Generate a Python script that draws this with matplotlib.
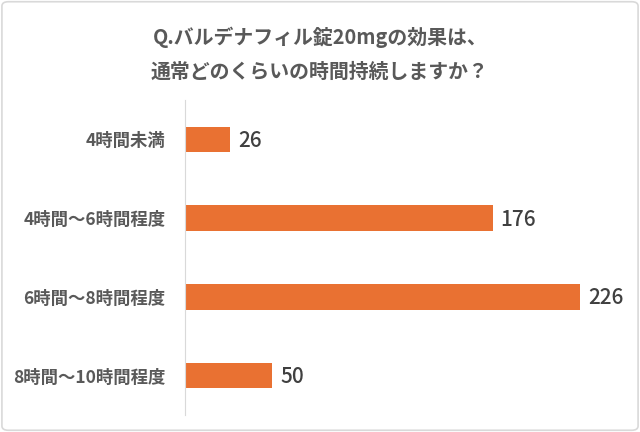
import matplotlib
matplotlib.use("Agg")
import matplotlib.pyplot as plt
from matplotlib.patches import FancyBboxPatch

plt.rcParams['font.family'] = ['Noto Sans CJK JP', 'DejaVu Sans']

# data
categories = ['4時間未満', '4時間〜6時間程度', '6時間〜8時間程度', '8時間〜10時間程度']
counts = [26, 176, 226, 50]
title = 'Q.バルデナフィル錠20mgの効果は、\n通常どのくらいの時間持続しますか？'

bar_color = '#E97132'
label_color = '#595959'

fig = plt.figure(figsize=(6.4, 4.32), dpi=100)
ax = fig.add_axes([0.289, 0.039, 0.683, 0.730])

y = list(range(len(categories)))
ax.barh(y, counts, height=0.32, color=bar_color)
ax.set_ylim(len(categories) - 0.5, -0.5)
ax.set_xlim(0, 250)

for yi, v in zip(y, counts):
    ax.text(v + 4.5, yi + 0.02, str(v), va='center', ha='left', fontsize=15,
            color='#404040', fontweight='medium')

ax.set_yticks(y)
ax.set_yticklabels(categories, fontsize=12.5, color=label_color, fontweight='bold')
ax.tick_params(axis='y', length=0, pad=14)
ax.set_xticks([])
for s in ['top', 'right', 'bottom']:
    ax.spines[s].set_visible(False)
ax.spines['left'].set_color('#D9D9D9')
ax.spines['left'].set_linewidth(0.8)

fig.text(0.5, 0.874, title, ha='center', va='center', fontsize=14.3,
         color=label_color, fontweight='bold', linespacing=1.75)

# outer border
border = FancyBboxPatch((0.003, 0.004), 0.994, 0.992, boxstyle='round,pad=0,rounding_size=0.01',
                        transform=fig.transFigure, fill=False, edgecolor='#D9D9D9', linewidth=1.2)
fig.patches.append(border)

fig.savefig('out.png', dpi=100)
